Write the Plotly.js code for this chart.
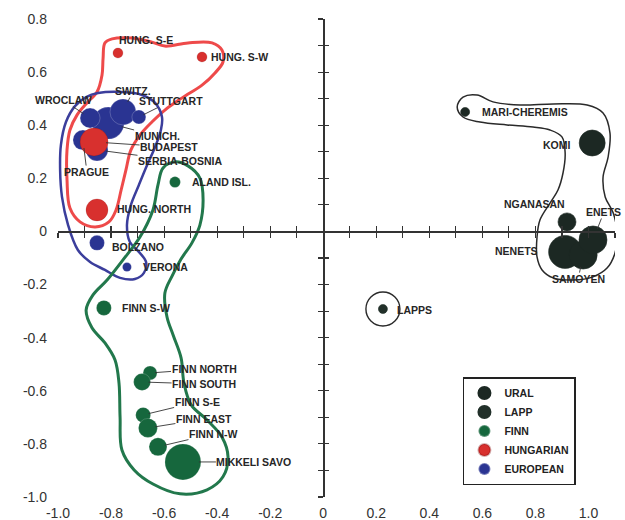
<!DOCTYPE html>
<html><head><meta charset="utf-8">
<script src="https://cdn.plot.ly/plotly-3.0.1.min.js"></script>
<style>html,body{margin:0;padding:0;background:#fff}#chart{width:625px;height:520px}</style>
</head><body><div id="chart"></div>
<script>
// ---------------- DATA ----------------
const xTickVals = [-1.0,-0.8,-0.6,-0.4,-0.2,0,0.2,0.4,0.6,0.8,1.0];
const xTickText = ['-1.0','-0.8','-0.6','-0.4','-0.2','0','0.2','0.4','0.6','0.8','1.0'];
const yTickVals = [0.8,0.6,0.4,0.2,0,-0.2,-0.4,-0.6,-0.8,-1.0];
const yTickText = ['0.8','0.6','0.4','0.2','0','-0.2','-0.4','-0.6','-0.8','-1.0'];

const uralNames = ['MARI-CHEREMIS','KOMI','NGANASAN','NENETS','SAMOYEN','ENETS'];
const uralX = [0.535, 1.014, 0.919, 0.912, 0.980, 1.017];
const uralY = [0.450, 0.333, 0.036, -0.077, -0.089, -0.032];
const uralW = [9, 26, 18, 33, 28, 28];

const lappNames = ['LAPPS'];
const lappX = [0.225];
const lappY = [-0.292];
const lappW = [9];

const finnNames = ['ALAND ISL.','FINN S-W','FINN NORTH','FINN SOUTH','FINN S-E','FINN EAST','FINN N-W','MIKKELI SAVO'];
const finnX = [-0.559, -0.827, -0.653, -0.683, -0.679, -0.661, -0.623, -0.529];
const finnY = [0.186, -0.288, -0.533, -0.567, -0.691, -0.740, -0.811, -0.868];
const finnW = [11, 15, 14, 17, 15, 19, 18, 36];

const hungNames = ['HUNG. S-E','HUNG. S-W','BUDAPEST','HUNG. NORTH'];
const hungX = [-0.774, -0.457, -0.864, -0.853];
const hungY = [0.672, 0.657, 0.337, 0.081];
const hungW = [10, 10, 28, 22];

const euroNames = ['MUNICH.','SWITZ.','WROCLAW','STUTTGART','PRAGUE','SERBIA-BOSNIA','BOLZANO','VERONA'];
const euroX = [-0.811, -0.755, -0.879, -0.695, -0.906, -0.853, -0.853, -0.740];
const euroY = [0.408, 0.450, 0.427, 0.431, 0.344, 0.307, -0.043, -0.134];
const euroW = [32, 26, 20, 14, 20, 22, 15, 9];

// hand-drawn group outlines (data units)
const hungOutlineX = [-0.823,-0.796,-0.721,-0.646,-0.597,-0.510,-0.419,-0.382,-0.378,-0.408,-0.457,-0.532,-0.597,-0.646,-0.691,-0.725,-0.744,-0.762,-0.781,-0.808,-0.860,-0.917,-0.955,-0.966,-0.966,-0.955,-0.928,-0.891,-0.853,-0.834,-0.830,-0.823];
const hungOutlineY = [0.710,0.725,0.728,0.713,0.698,0.710,0.710,0.683,0.638,0.597,0.551,0.503,0.457,0.412,0.363,0.307,0.231,0.156,0.081,0.036,0.017,0.036,0.088,0.194,0.307,0.382,0.439,0.484,0.525,0.589,0.653,0.710];

const euroOutlineX = [-0.849,-0.759,-0.683,-0.634,-0.608,-0.612,-0.634,-0.664,-0.695,-0.725,-0.740,-0.729,-0.695,-0.668,-0.676,-0.710,-0.766,-0.823,-0.879,-0.925,-0.962,-0.985,-0.992,-0.989,-0.970,-0.936,-0.894,-0.849];
const euroOutlineY = [0.521,0.525,0.514,0.484,0.431,0.382,0.318,0.250,0.175,0.100,0.024,-0.040,-0.077,-0.115,-0.156,-0.179,-0.175,-0.145,-0.115,-0.070,0.024,0.130,0.231,0.326,0.412,0.472,0.506,0.521];

const finnOutlineX = [-0.623,-0.604,-0.559,-0.510,-0.465,-0.453,-0.465,-0.495,-0.536,-0.570,-0.597,-0.589,-0.566,-0.536,-0.525,-0.498,-0.438,-0.382,-0.359,-0.378,-0.438,-0.540,-0.642,-0.713,-0.759,-0.766,-0.770,-0.785,-0.823,-0.872,-0.894,-0.868,-0.815,-0.755,-0.691,-0.642,-0.623];
const finnOutlineY = [0.175,0.239,0.262,0.247,0.201,0.119,0.024,-0.043,-0.104,-0.168,-0.232,-0.322,-0.390,-0.476,-0.571,-0.653,-0.710,-0.774,-0.849,-0.924,-0.973,-0.988,-0.951,-0.898,-0.823,-0.699,-0.571,-0.484,-0.420,-0.363,-0.296,-0.239,-0.183,-0.107,-0.021,0.081,0.175];

const uralOutlineX = [0.505,0.527,0.580,0.640,0.742,0.867,0.995,1.055,1.081,1.074,1.055,1.063,1.093,1.108,1.100,1.070,1.017,0.942,0.867,0.825,0.806,0.806,0.817,0.855,0.885,0.904,0.912,0.900,0.855,0.791,0.693,0.591,0.527,0.505];
const uralOutlineY = [0.469,0.506,0.514,0.488,0.476,0.480,0.476,0.446,0.371,0.280,0.205,0.130,0.070,-0.006,-0.081,-0.138,-0.171,-0.183,-0.175,-0.145,-0.096,-0.021,0.043,0.107,0.156,0.220,0.295,0.356,0.382,0.393,0.401,0.412,0.431,0.469];

// ---------------- STYLE ----------------
const FONT = 'Liberation Sans, Arial, sans-serif';
const xr = [-1.0, 1.1], yr = [-1.0, 0.8];
const colors = {URAL:'#1c2823', LAPP:'#22302a', FINN:'#16673d', HUNGARIAN:'#d8302e', EUROPEAN:'#2a3492'};
const edge = {URAL:'#1c2823', LAPP:'#22302a', FINN:'rgba(255,255,255,0.3)', HUNGARIAN:'rgba(120,0,0,0.3)', EUROPEAN:'rgba(255,255,255,0.35)'};

// label placement (screen-pixel offsets from the point)
const labelStyle = {
  'HUNG. S-E':{a:'left',dx:-1,dy:-13}, 'HUNG. S-W':{a:'left',dx:7,dy:0},
  'HUNG. NORTH':{a:'left',dx:18,dy:-1}, 'BOLZANO':{a:'left',dx:13,dy:4},
  'VERONA':{a:'left',dx:14,dy:0}, 'ALAND ISL.':{a:'left',dx:15,dy:0},
  'FINN S-W':{a:'left',dx:16,dy:0}, 'MARI-CHEREMIS':{a:'left',dx:15,dy:0},
  'KOMI':{a:'right',dx:-20,dy:2}, 'NGANASAN':{a:'right',dx:0,dy:-18},
  'NENETS':{a:'right',dx:-25,dy:-1}, 'LAPPS':{a:'left',dx:12,dy:1},
  'WROCLAW':{lead:true,ax:-27,ay:-18}, 'SWITZ.':{lead:true,ax:10,ay:-21},
  'STUTTGART':{lead:true,ax:32,ay:-16}, 'MUNICH.':{lead:true,ax:49,ay:13},
  'BUDAPEST':{lead:true,ax:75,ay:5}, 'SERBIA-BOSNIA':{lead:true,ax:83,ay:11},
  'PRAGUE':{lead:true,ax:4,ay:32}, 'FINN NORTH':{lead:true,ax:54,ay:-4},
  'FINN SOUTH':{lead:true,ax:62,ay:2}, 'FINN S-E':{lead:true,ax:54,ay:-13},
  'FINN EAST':{lead:true,ax:56,ay:-9}, 'FINN N-W':{lead:true,ax:55,ay:-13},
  'MIKKELI SAVO':{lead:true,ax:71,ay:0}, 'ENETS':{lead:true,ax:11,ay:-28},
  'SAMOYEN':{lead:true,ax:-5,ay:24}
};

function outline(x, y, color, width) {
  return {type:'scatter', mode:'lines', x:x, y:y, showlegend:false, hoverinfo:'skip',
    line:{shape:'spline', smoothing:1, color:color, width:width}};
}
function group(name, names, x, y, w, rank) {
  return {type:'scatter', mode:'markers', name:name, x:x, y:y, text:names, hoverinfo:'text',
    legendrank:rank, cliponaxis:false,
    marker:{size:w, sizemode:'diameter', opacity:1, color:colors[name],
      line:{width:0.6, color:edge[name]}}};
}

const traces = [
  outline(hungOutlineX, hungOutlineY, '#ee4a4a', 3),
  outline(euroOutlineX, euroOutlineY, '#3b3e9c', 2.5),
  outline(finnOutlineX, finnOutlineY, '#22784c', 3),
  outline(uralOutlineX, uralOutlineY, '#2a2a2a', 1.5),
  {type:'scatter', mode:'markers', x:lappX, y:lappY, showlegend:false, hoverinfo:'skip',
    marker:{symbol:'circle-open', size:34, opacity:1, color:'#2a2a2a', line:{width:1.4}}},
  group('URAL', uralNames, uralX, uralY, uralW, 1),
  group('LAPP', lappNames, lappX, lappY, lappW, 2),
  group('FINN', finnNames, finnX, finnY, finnW, 3),
  group('EUROPEAN', euroNames, euroX, euroY, euroW, 5),
  group('HUNGARIAN', hungNames, hungX, hungY, hungW, 4),
  // empty traces that carry the crossing axis lines
  {type:'scatter', x:[null], y:[null], xaxis:'x2', yaxis:'y', showlegend:false, hoverinfo:'skip'},
  {type:'scatter', x:[null], y:[null], xaxis:'x3', yaxis:'y', showlegend:false, hoverinfo:'skip'},
  {type:'scatter', x:[null], y:[null], xaxis:'x', yaxis:'y2', showlegend:false, hoverinfo:'skip'},
  {type:'scatter', x:[null], y:[null], xaxis:'x', yaxis:'y3', showlegend:false, hoverinfo:'skip'}
];

// annotations for every labelled point
const annotations = [];
[[uralNames,uralX,uralY,uralW],[lappNames,lappX,lappY,lappW],[finnNames,finnX,finnY,finnW],
 [hungNames,hungX,hungY,hungW],[euroNames,euroX,euroY,euroW]].forEach(function(g){
  g[0].forEach(function(n,i){
    const s = labelStyle[n]; if(!s) return;
    const base = {x:g[1][i], y:g[2][i], xref:'x', yref:'y', text:n,
      font:{family:FONT, size:10.5, color:'#262626', weight:'bold'}};
    if (s.lead) {
      annotations.push(Object.assign(base, {showarrow:true, arrowhead:0, arrowwidth:0.9,
        arrowcolor:'#333', ax:s.ax, ay:s.ay, standoff:g[3][i]/2 - 2, borderpad:0}));
    } else {
      annotations.push(Object.assign(base, {showarrow:false, xanchor:s.a, yanchor:'middle',
        xshift:s.dx, yshift:-s.dy}));
    }
  });
});

const posY0 = (0 - yr[0]) / (yr[1] - yr[0]);
const posX0 = (0 - xr[0]) / (xr[1] - xr[0]);
const lineAx = {showline:false, linecolor:'#333', linewidth:1.3, tickmode:'linear', tick0:0, dtick:0.1,
  ticklen:5, tickwidth:1.2, tickcolor:'#333', showticklabels:false, showgrid:false, zeroline:false,
  anchor:'free', fixedrange:true};

const layout = {
  width:625, height:520, margin:{l:58, r:10, t:19, b:23},
  paper_bgcolor:'#fff', plot_bgcolor:'#fff', showlegend:true,
  font:{family:FONT, color:'#333'},
  xaxis:{range:xr, tickmode:'array', tickvals:xTickVals, ticktext:xTickText, ticks:'',
    showline:false, showgrid:false, zeroline:false, ticklabelstandoff:6,
    tickfont:{family:FONT, size:14, color:'#333'}, fixedrange:true},
  yaxis:{range:yr, tickmode:'array', tickvals:yTickVals, ticktext:yTickText, ticks:'',
    showline:false, showgrid:false, zeroline:false, ticklabelstandoff:10,
    tickfont:{family:FONT, size:14, color:'#333'}, fixedrange:true},
  xaxis2:Object.assign({}, lineAx, {overlaying:'x', range:xr, position:posY0, side:'bottom', showline:true, ticks:'outside'}),
  xaxis3:Object.assign({}, lineAx, {overlaying:'x', range:xr, position:posY0, side:'bottom', ticks:'inside'}),
  yaxis2:Object.assign({}, lineAx, {overlaying:'y', range:yr, position:posX0, side:'left', showline:true, ticks:'outside'}),
  yaxis3:Object.assign({}, lineAx, {overlaying:'y', range:yr, position:posX0, side:'left', ticks:'inside'}),
  legend:{x:0.727, y:0.251, xanchor:'left', yanchor:'top', bgcolor:'#fff', bordercolor:'#222',
    borderwidth:1.5, itemsizing:'constant', font:{family:FONT, size:10.5, color:'#222', weight:'bold'}},
  annotations:annotations
};

Plotly.newPlot('chart', traces, layout, {staticPlot:true, displayModeBar:false});
</script></body></html>
